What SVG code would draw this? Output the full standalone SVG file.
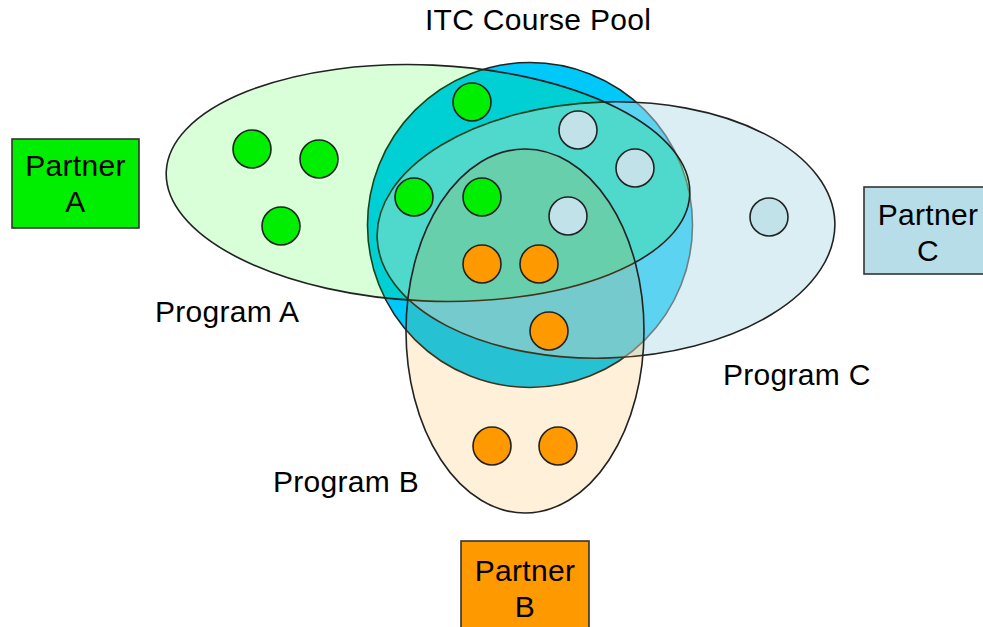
<svg xmlns="http://www.w3.org/2000/svg" width="983" height="627" viewBox="0 0 983 627">
<style>
  .lbl { font-family: "Liberation Sans", Arial, sans-serif; font-size: 30px; letter-spacing: 0.3px; fill: #000; }
  .mid { text-anchor: middle; }
  .set { stroke: #222; stroke-width: 1.6; }
  .dot { stroke: #222; stroke-width: 1.6; }
  .g { fill: #00EE00; }
  .o { fill: #FF9900; }
  .b { fill: #C2E2E9; }
  .box { stroke: #333; stroke-width: 1.6; }
</style>
<rect width="983" height="627" fill="#ffffff"/>

<g id="itc-course-pool">
  <circle class="set" cx="530" cy="225" r="162.5" fill="#00C8F8"/>
  <text class="lbl mid" x="538" y="30">ITC Course Pool</text>
</g>

<g id="program-c">
  <ellipse class="set" cx="606" cy="230" rx="229" ry="128" transform="rotate(-2 606 230)" fill="#B7DEE8" fill-opacity="0.5"/>
  <text class="lbl" x="723" y="385">Program C</text>
</g>

<g id="program-a">
  <ellipse class="set" cx="428" cy="183" rx="262" ry="118" transform="rotate(2.5 428 183)" fill="#00FF00" fill-opacity="0.15"/>
  <text class="lbl" x="155" y="322">Program A</text>
</g>

<g id="program-b">
  <ellipse class="set" cx="525" cy="331" rx="119" ry="182" fill="#FF9900" fill-opacity="0.15"/>
  <text class="lbl" x="273" y="492">Program B</text>
</g>

<g id="courses">
  <circle class="dot g" cx="252" cy="149" r="19"/>
  <circle class="dot g" cx="319" cy="159" r="19"/>
  <circle class="dot g" cx="281" cy="226" r="19"/>
  <circle class="dot g" cx="472" cy="102" r="19"/>
  <circle class="dot g" cx="414" cy="197" r="19"/>
  <circle class="dot g" cx="482" cy="197" r="19"/>
  <circle class="dot b" cx="578" cy="130" r="19"/>
  <circle class="dot b" cx="635" cy="168" r="19"/>
  <circle class="dot b" cx="568" cy="216" r="19"/>
  <circle class="dot b" cx="769" cy="217" r="19"/>
  <circle class="dot o" cx="482" cy="264" r="19"/>
  <circle class="dot o" cx="539" cy="264" r="19"/>
  <circle class="dot o" cx="549" cy="331" r="19"/>
  <circle class="dot o" cx="492" cy="446" r="19"/>
  <circle class="dot o" cx="558" cy="446" r="19"/>
</g>

<g id="partner-a">
  <rect class="box" x="12" y="139" width="127" height="89" fill="#00EE00"/>
  <text class="lbl mid" x="75.5" y="176">Partner</text>
  <text class="lbl mid" x="75.5" y="212">A</text>
</g>

<g id="partner-c">
  <rect class="box" x="864" y="187" width="125" height="87" fill="#B7DEE8"/>
  <text class="lbl mid" x="928" y="225">Partner</text>
  <text class="lbl mid" x="928" y="261">C</text>
</g>

<g id="partner-b">
  <rect class="box" x="461" y="541" width="128" height="95" fill="#FF9900"/>
  <text class="lbl mid" x="525" y="581">Partner</text>
  <text class="lbl mid" x="525" y="617">B</text>
</g>
</svg>
